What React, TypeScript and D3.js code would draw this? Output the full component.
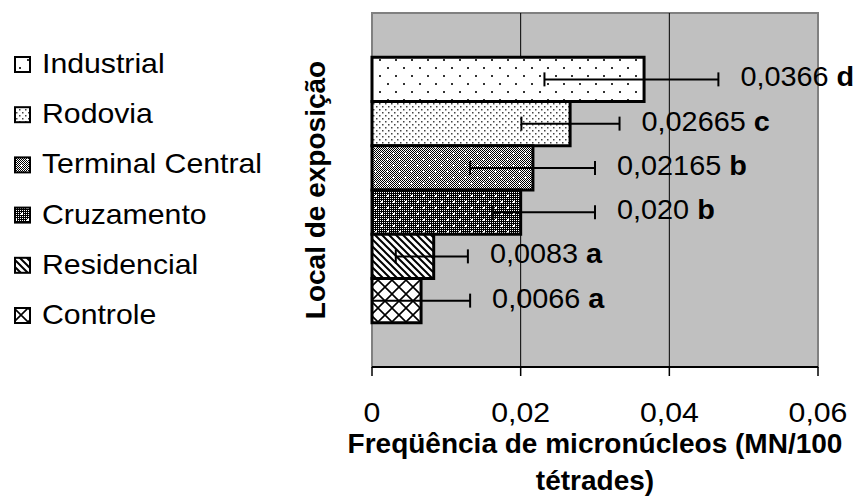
import React from "react";
import * as d3 from "d3";

// locais de exposição, de cima para baixo
const sites = ["Industrial", "Rodovia", "Terminal Central", "Cruzamento", "Residencial", "Controle"];
const freq = [0.0366, 0.02665, 0.02165, 0.02, 0.0083, 0.0066];
const errLow = [0.0232, 0.0201, 0.0132, 0.0163, 0.0032, 0];
const errHigh = [0.0466, 0.0333, 0.03, 0.03, 0.0129, 0.0132];
const valueLabels = ["0,0366", "0,02665", "0,02165", "0,020", "0,0083", "0,0066"];
const groupLetters = ["d", "c", "b", "b", "a", "a"];
const xTicks = [0, 0.02, 0.04, 0.06];
const patternIds = ["pInd", "pRod", "pTer", "pCru", "pRes", "pCon"];

const W = 857;
const H = 498;
const plot = { left: 372, right: 818, top: 13, bottom: 367 };
const FONT = "'Liberation Sans', Arial, sans-serif";

const fmt = (v: number) => (v === 0 ? "0" : d3.format(".2f")(v).replace(".", ","));

// o texto do original é um pouco mais largo que Arial
const Txt = ({ x, y, children, anchor = "start", sx = 1.08, size = 28 }: any) => (
  <text
    transform={`translate(${x},${y}) scale(${sx},1)`}
    textAnchor={anchor}
    fontFamily={FONT}
    fontSize={size}
    fill="#000"
  >
    {children}
  </text>
);

const Patterns = () => (
  <defs>
    <pattern id="chk" width={2} height={2} patternUnits="userSpaceOnUse">
      <rect width={2} height={2} fill="#fff" />
      <rect width={1} height={1} fill="#000" />
      <rect x={1} y={1} width={1} height={1} fill="#000" />
    </pattern>
    <pattern id="chkDark" width={2} height={2} patternUnits="userSpaceOnUse">
      <rect width={2} height={2} fill="#000" />
      <rect width={1} height={1} fill="#fff" />
    </pattern>
    <pattern id="pInd" width={16} height={16} patternUnits="userSpaceOnUse">
      <rect width={16} height={16} fill="#fff" />
      <rect x={3} y={3} width={2} height={2} fill="#333" />
      <rect x={11} y={11} width={2} height={2} fill="#333" />
    </pattern>
    <pattern id="pRod" width={6} height={6} patternUnits="userSpaceOnUse">
      <rect width={6} height={6} fill="#fff" />
      <rect x={1} y={1} width={1.5} height={1.5} fill="#444" />
      <rect x={4} y={4} width={1.5} height={1.5} fill="#444" />
    </pattern>
    <pattern id="pTer" width={12} height={12} patternUnits="userSpaceOnUse">
      <rect width={12} height={12} fill="url(#chk)" />
      <rect x={2} y={3} width={3} height={1} fill="#fff" />
      <rect x={3} y={2} width={1} height={3} fill="#fff" />
      <rect x={8} y={9} width={3} height={1} fill="#fff" />
      <rect x={9} y={8} width={1} height={3} fill="#fff" />
    </pattern>
    <pattern id="pCru" width={12} height={12} patternUnits="userSpaceOnUse">
      <rect width={12} height={12} fill="url(#chkDark)" />
      <rect x={3} y={3} width={2} height={2} fill="#fff" />
      <rect x={9} y={9} width={2} height={2} fill="#fff" />
    </pattern>
    <pattern id="pRes" width={7} height={7} patternUnits="userSpaceOnUse">
      <rect width={7} height={7} fill="#fff" />
      <path d="M-2,-2 L9,9 M-2,5 L2,9 M5,-2 L9,2" stroke="#000" strokeWidth={2} />
    </pattern>
    <pattern id="pCon" width={14} height={14} patternUnits="userSpaceOnUse">
      <rect width={14} height={14} fill="#fff" />
      <path d="M0,0 L14,14 M14,0 L0,14" stroke="#000" strokeWidth={1.6} />
    </pattern>
  </defs>
);

export default function App() {
  const x = d3.scaleLinear().domain([0, 0.06]).range([plot.left, plot.right]);
  const y = d3
    .scaleBand<string>()
    .domain(sites)
    .range([plot.top, plot.bottom])
    .paddingInner(0)
    .paddingOuter(1);
  const bw = y.bandwidth();

  // legenda
  const legendY = d3.scalePoint<string>().domain(sites).range([73, 324]);

  return (
    <svg width={W} height={H} style={{ position: "absolute", left: 0, top: 0 }}>
      <Patterns />
      <rect width={W} height={H} fill="#fff" />

      {/* área do gráfico */}
      <rect
        x={plot.left}
        y={plot.top}
        width={plot.right - plot.left}
        height={plot.bottom - plot.top}
        fill="#c0c0c0"
        stroke="#808080"
        strokeWidth={2}
      />
      {xTicks.slice(1, -1).map((t) => (
        <line key={t} x1={x(t)} x2={x(t)} y1={plot.top} y2={plot.bottom} stroke="#000" strokeWidth={1} />
      ))}

      {/* barras */}
      {sites.map((s, i) => (
        <rect
          key={s}
          x={x(0)}
          y={y(s)}
          width={x(freq[i]) - x(0)}
          height={bw}
          fill={`url(#${patternIds[i]})`}
          stroke="#000"
          strokeWidth={3}
        />
      ))}

      {/* barras de erro */}
      {sites.map((s, i) => {
        const cy = (y(s) as number) + bw / 2;
        return (
          <g key={s} stroke="#000" strokeWidth={2}>
            <line x1={x(errLow[i])} x2={x(errHigh[i])} y1={cy} y2={cy} />
            {errLow[i] > 0 && <line x1={x(errLow[i])} x2={x(errLow[i])} y1={cy - 7} y2={cy + 7} />}
            <line x1={x(errHigh[i])} x2={x(errHigh[i])} y1={cy - 7} y2={cy + 7} />
          </g>
        );
      })}

      {/* rótulos */}
      {sites.map((s, i) => {
        const cy = (y(s) as number) + bw / 2;
        return (
          <Txt key={s} x={x(errHigh[i]) + 22} y={cy + 7} sx={1.03}>
            {valueLabels[i]} <tspan fontWeight="bold">{groupLetters[i]}</tspan>
          </Txt>
        );
      })}

      {/* eixo x */}
      <line x1={plot.left} x2={plot.right} y1={plot.bottom} y2={plot.bottom} stroke="#000" strokeWidth={2} />
      {xTicks.map((t) => (
        <g key={t}>
          <line x1={x(t)} x2={x(t)} y1={plot.bottom} y2={plot.bottom + 9} stroke="#000" strokeWidth={1.5} />
          <Txt x={x(t)} y={422} anchor="middle">
            {fmt(t)}
          </Txt>
        </g>
      ))}

      <text x={595} y={453} textAnchor="middle" fontFamily={FONT} fontSize={28} fontWeight="bold">
        Freqüência de micronúcleos (MN/100
      </text>
      <text x={595} y={490} textAnchor="middle" fontFamily={FONT} fontSize={28} fontWeight="bold">
        tétrades)
      </text>

      <text
        transform={`translate(325,${(plot.top + plot.bottom) / 2}) rotate(-90)`}
        textAnchor="middle"
        fontFamily={FONT}
        fontSize={28}
        fontWeight="bold"
      >
        Local de exposição
      </text>

      {/* legenda */}
      {sites.map((s, i) => {
        const by = legendY(s) as number;
        return (
          <g key={s}>
            <rect x={15} y={by - 16} width={15} height={15} fill={`url(#${patternIds[i]})`} stroke="#000" strokeWidth={2} />
            <Txt x={42} y={by}>
              {s}
            </Txt>
          </g>
        );
      })}
    </svg>
  );
}
